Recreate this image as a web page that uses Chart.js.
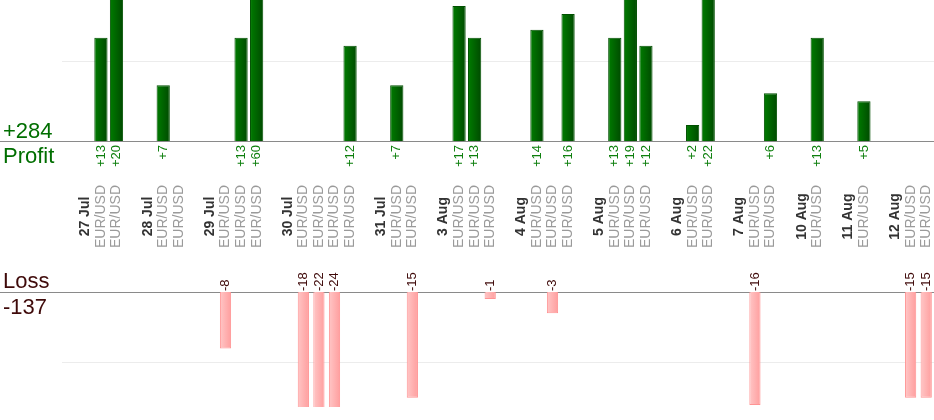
<!DOCTYPE html>
<html>
<head>
<meta charset="utf-8">
<script src="https://cdn.jsdelivr.net/npm/chart.js@4.4.0/dist/chart.umd.min.js"></script>
<style>
  html, body { margin: 0; padding: 0; background: #fff; }
  #wrap { position: relative; width: 934px; height: 420px; }
</style>
</head>
<body>
<div id="wrap"><canvas id="tradeChart"></canvas></div>
<script>
// one slot per trade, with an empty slot and a date slot before each day
const categories = [
  '', '27 Jul', 'EUR/USD', 'EUR/USD',
  '', '28 Jul', 'EUR/USD', 'EUR/USD',
  '', '29 Jul', 'EUR/USD', 'EUR/USD', 'EUR/USD',
  '', '30 Jul', 'EUR/USD', 'EUR/USD', 'EUR/USD', 'EUR/USD',
  '', '31 Jul', 'EUR/USD', 'EUR/USD',
  '', '3 Aug', 'EUR/USD', 'EUR/USD', 'EUR/USD',
  '', '4 Aug', 'EUR/USD', 'EUR/USD', 'EUR/USD',
  '', '5 Aug', 'EUR/USD', 'EUR/USD', 'EUR/USD',
  '', '6 Aug', 'EUR/USD', 'EUR/USD',
  '', '7 Aug', 'EUR/USD', 'EUR/USD',
  '', '10 Aug', 'EUR/USD',
  '', '11 Aug', 'EUR/USD',
  '', '12 Aug', 'EUR/USD', 'EUR/USD',
];

const profit = [
  null, null, 13, 20,
  null, null, 7, null,
  null, null, null, 13, 60,
  null, null, null, null, null, 12,
  null, null, 7, null,
  null, null, 17, 13, null,
  null, null, 14, null, 16,
  null, null, 13, 19, 12,
  null, null, 2, 22,
  null, null, null, 6,
  null, null, 13,
  null, null, 5,
  null, null, null, null,
];

const loss = [
  null, null, null, null,
  null, null, null, null,
  null, null, -8, null, null,
  null, null, -18, -22, -24, null,
  null, null, null, -15,
  null, null, null, null, -1,
  null, null, null, -3, null,
  null, null, null, null, null,
  null, null, null, null,
  null, null, -16, null,
  null, null, null,
  null, null, null,
  null, null, -15, -15,
];

const FONT = "'Liberation Sans', Arial, sans-serif";

const totalProfit = profit.reduce((s, v) => s + (v || 0), 0);
const totalLoss = loss.reduce((s, v) => s + (v || 0), 0);

function fmt(v) {
  return v > 0 ? '+' + v : String(v);
}

// horizontal shading across each bar (needs the bar's x, so it kicks in on the 2nd update)
function barGradient(light, dark, fallback) {
  return (c) => {
    const el = c.element;
    if (!el || !isFinite(el.x) || !el.width) return fallback;
    const g = c.chart.ctx.createLinearGradient(el.x - el.width / 2, 0, el.x + el.width / 2, 0);
    g.addColorStop(0, light);
    g.addColorStop(1, dark);
    return g;
  };
}

function vText(ctx, text, x, y, align) {
  ctx.save();
  ctx.translate(x, y);
  ctx.rotate(-Math.PI / 2);
  ctx.textAlign = align;
  ctx.textBaseline = 'middle';
  ctx.fillText(text, 0, 0);
  ctx.restore();
}

const tradeLabels = {
  id: 'tradeLabels',
  beforeDatasetsDraw(chart) {
    const ctx = chart.ctx;
    const y0p = Math.round(chart.scales.yProfit.getPixelForValue(0)) + 0.5;
    const y0l = Math.round(chart.scales.yLoss.getPixelForValue(0)) + 0.5;
    ctx.save();
    ctx.strokeStyle = '#8a8a8a';
    ctx.lineWidth = 1;
    ctx.beginPath();
    ctx.moveTo(0, y0p);
    ctx.lineTo(chart.width, y0p);
    ctx.moveTo(0, y0l);
    ctx.lineTo(chart.width, y0l);
    ctx.stroke();
    ctx.restore();
  },
  afterDraw(chart) {
    const ctx = chart.ctx;
    const x = chart.scales.x;
    const y0p = chart.scales.yProfit.getPixelForValue(0);
    const y0l = chart.scales.yLoss.getPixelForValue(0);
    const midY = (y0p + y0l) / 2;

    ctx.save();
    // totals on the left
    ctx.textAlign = 'left';
    ctx.textBaseline = 'alphabetic';
    ctx.font = '22px ' + FONT;
    ctx.fillStyle = '#006e00';
    ctx.fillText('+' + totalProfit, 3, y0p - 3);
    ctx.fillText('Profit', 3, y0p + 22);
    ctx.fillStyle = '#3f0a0a';
    ctx.fillText('Loss', 3, y0l - 4);
    ctx.fillText(String(totalLoss), 3, y0l + 22);

    // value labels
    ctx.font = '13px ' + FONT;
    profit.forEach((v, i) => {
      if (v == null) return;
      ctx.fillStyle = '#0d7f0d';
      vText(ctx, fmt(v), x.getPixelForValue(i), y0p + 4, 'right');
    });
    loss.forEach((v, i) => {
      if (v == null) return;
      ctx.fillStyle = '#3f0a0a';
      vText(ctx, fmt(v), x.getPixelForValue(i), y0l - 1, 'left');
    });

    // category labels
    categories.forEach((c, i) => {
      if (!c) return;
      if (c === 'EUR/USD') {
        ctx.font = '14px ' + FONT;
        ctx.fillStyle = '#9a9a9a';
      } else {
        ctx.font = 'bold 14px ' + FONT;
        ctx.fillStyle = '#333333';
      }
      vText(ctx, c, x.getPixelForValue(i), midY, 'center');
    });
    ctx.restore();
  },
};

let ctxTrades = document.getElementById('tradeChart').getContext('2d');
let tradeChart = new Chart(ctxTrades, {
  type: 'bar',
  data: {
    labels: categories,
    datasets: [
      {
        label: 'Profit',
        data: profit,
        yAxisID: 'yProfit',
        backgroundColor: barGradient('#007c00', '#004a00', '#006400'),
        borderColor: '#005000',
        borderWidth: 1,
        barPercentage: 0.85,
        categoryPercentage: 1,
        grouped: false,
      },
      {
        label: 'Loss',
        data: loss,
        yAxisID: 'yLoss',
        backgroundColor: barGradient('#ffc6c6', '#ff9e9e', '#ffb4b4'),
        borderColor: '#ff9494',
        borderWidth: 1,
        barPercentage: 0.72,
        categoryPercentage: 1,
        grouped: false,
      },
    ],
  },
  options: {
    responsive: true,
    maintainAspectRatio: false,
    animation: false,
    layout: { padding: { left: 62, right: 0, top: 0, bottom: 13 } },
    plugins: { legend: { display: false }, tooltip: { enabled: false } },
    scales: {
      x: { display: false },
      yProfit: {
        position: 'left',
        min: -33.5,
        max: 17.75,
        ticks: { display: false },
        border: { display: false },
        grid: { color: '#ececec', drawTicks: false },
        afterBuildTicks: (s) => { s.ticks = [{ value: 10 }]; },
      },
      yLoss: {
        position: 'left',
        min: -16.3,
        max: 41.4,
        ticks: { display: false },
        border: { display: false },
        grid: { color: '#ececec', drawTicks: false },
        afterBuildTicks: (s) => { s.ticks = [{ value: -10 }]; },
      },
    },
  },
  plugins: [tradeLabels],
});
tradeChart.update();
</script>
</body>
</html>
